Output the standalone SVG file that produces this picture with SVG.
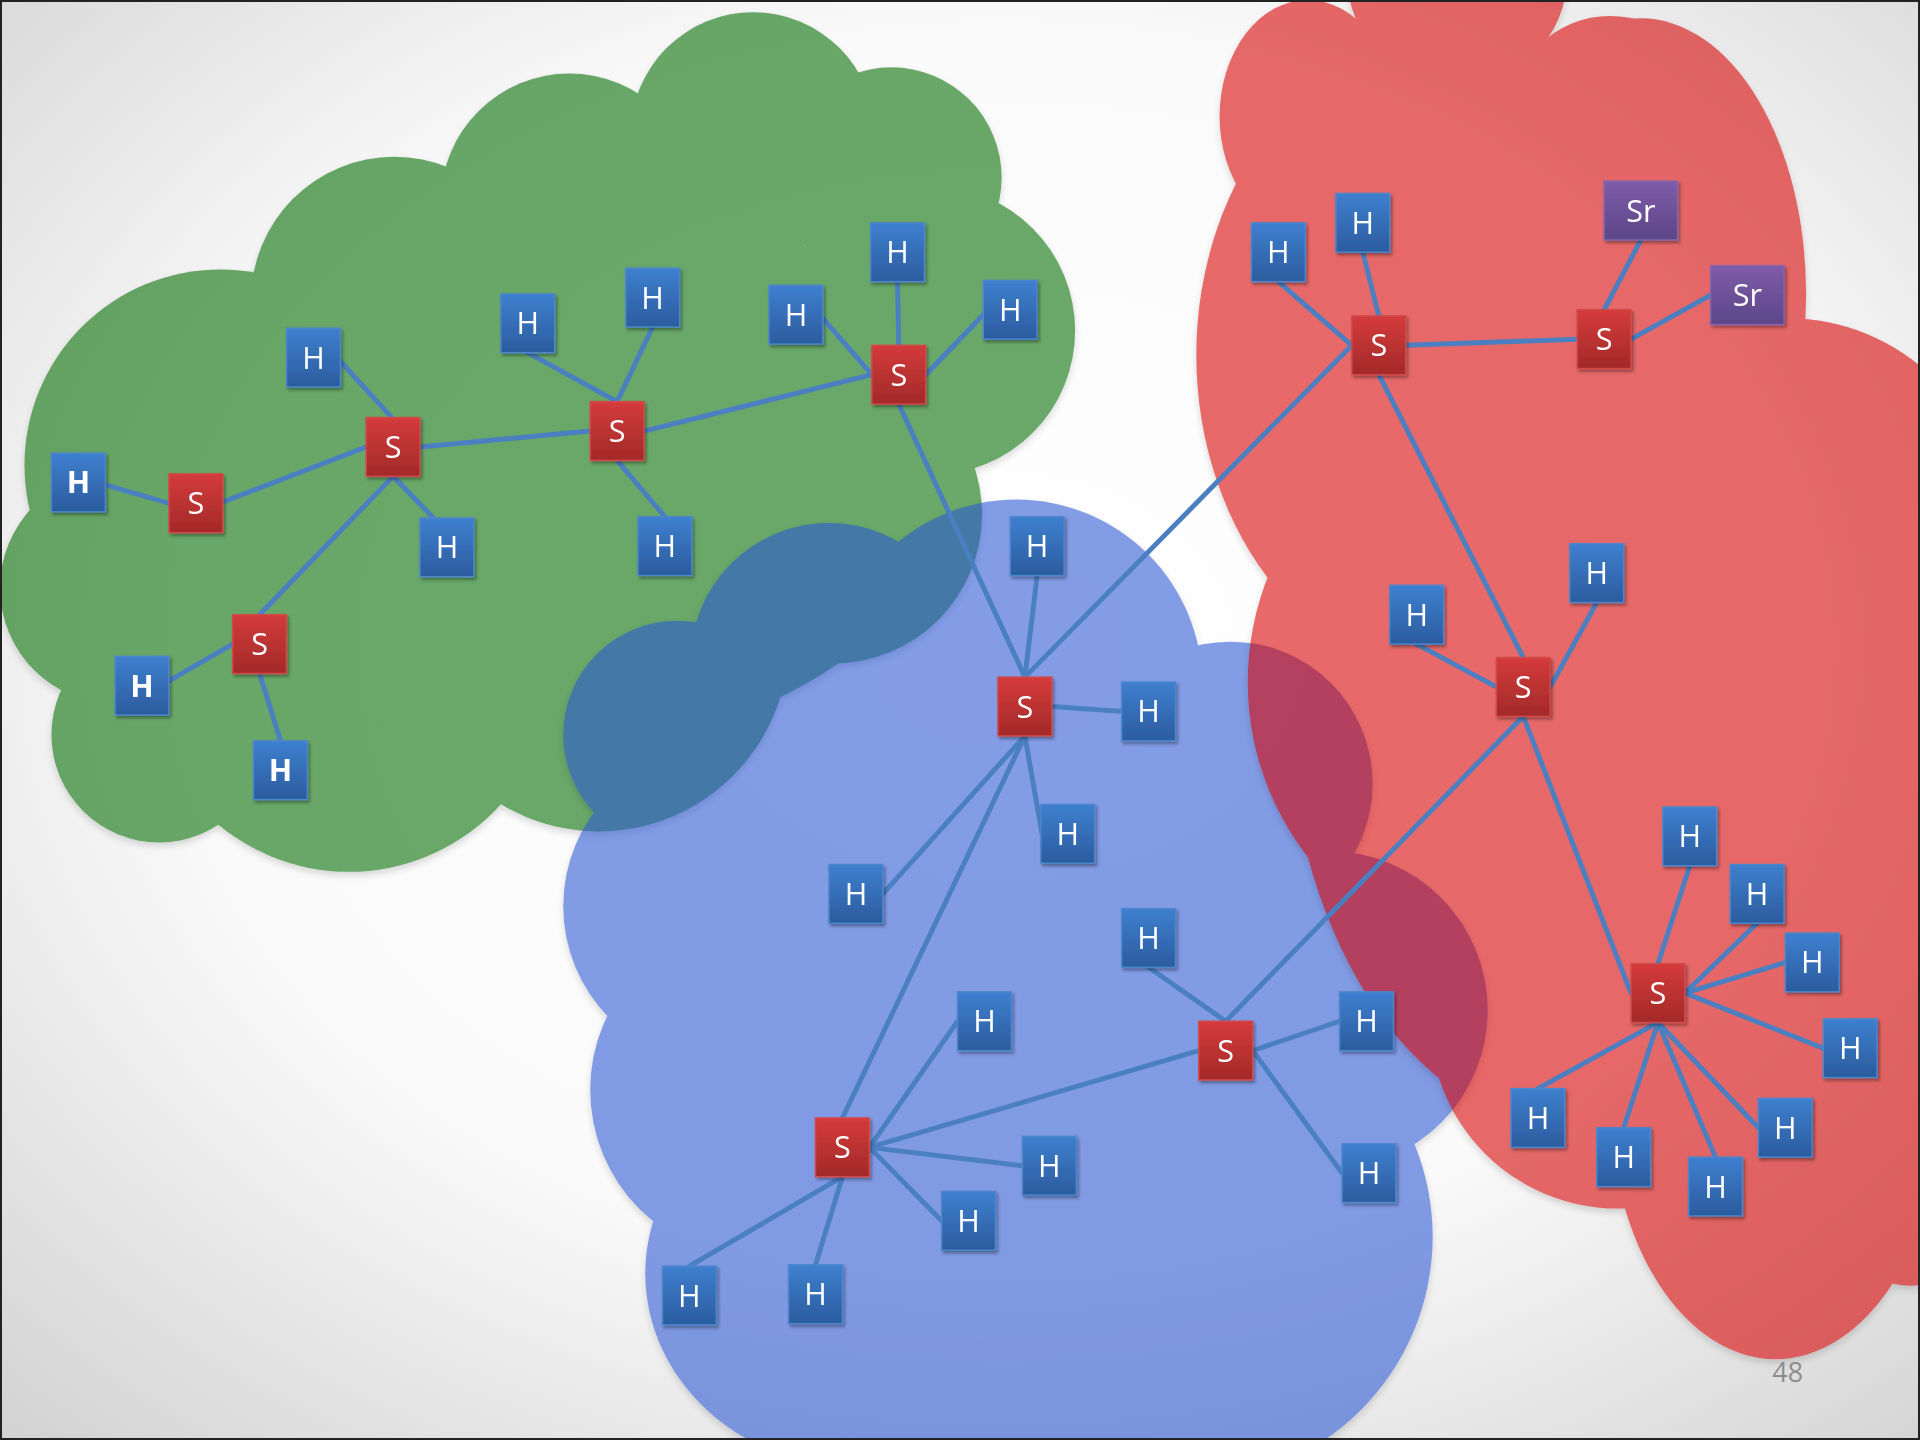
<svg xmlns="http://www.w3.org/2000/svg" width="1920" height="1440" viewBox="0 0 1920 1440">
<defs>
<radialGradient id="bg" cx="0.52" cy="0.45" r="0.78">
<stop offset="0" stop-color="#ffffff"/>
<stop offset="0.55" stop-color="#fafafa"/>
<stop offset="1" stop-color="#cfcfcf"/>
</radialGradient>
<linearGradient id="gh" x1="0" y1="0" x2="0" y2="1">
<stop offset="0" stop-color="#3f7fcf"/>
<stop offset="1" stop-color="#2b5c9e"/>
</linearGradient>
<linearGradient id="gs" x1="0" y1="0" x2="0" y2="1">
<stop offset="0" stop-color="#d43b3b"/>
<stop offset="1" stop-color="#a32929"/>
</linearGradient>
<linearGradient id="gp" x1="0" y1="0" x2="0" y2="1">
<stop offset="0" stop-color="#7e5ca8"/>
<stop offset="1" stop-color="#5c4688"/>
</linearGradient>
<filter id="sh" x="-20%" y="-20%" width="150%" height="150%">
<feDropShadow dx="1.5" dy="2" stdDeviation="1.5" flood-color="#000" flood-opacity="0.35"/>
</filter>
<filter id="csh" x="-10%" y="-10%" width="120%" height="120%">
<feDropShadow dx="0" dy="3" stdDeviation="3" flood-color="#000" flood-opacity="0.25"/>
</filter>
</defs>
<style>
.h{fill:url(#gh);stroke:#4d86cc;stroke-width:1.2}
.s{fill:url(#gs);stroke:#d24a4a;stroke-width:1.2}
.p{fill:url(#gp);stroke:#8265b0;stroke-width:1.2}
.node{filter:url(#sh)}
.t{fill:#ffffff;font-family:"Open Sans","Liberation Sans",sans-serif;font-size:25px;text-anchor:middle}
.b{font-weight:bold}
.c line{stroke:#4a7fc2;stroke-width:4;stroke-linecap:round}
</style>
<rect x="0" y="0" width="1920" height="1440" fill="url(#bg)"/>
<g transform="scale(1.2244898)">
<g id="cloud-green" opacity="0.58" fill="#006c00" filter="url(#csh)">
<circle cx="615" cy="110" r="100"/>
<circle cx="728" cy="145" r="90"/>
<circle cx="760" cy="270" r="118"/>
<circle cx="465" cy="165" r="105"/>
<circle cx="322" cy="245" r="117"/>
<circle cx="180" cy="380" r="160"/>
<circle cx="95" cy="480" r="95"/>
<circle cx="130" cy="600" r="88"/>
<circle cx="285" cy="545" r="167"/>
<circle cx="489" cy="524" r="155"/>
<circle cx="680" cy="420" r="122"/>
<ellipse cx="450" cy="380" rx="330" ry="230"/>
</g>
<g id="cloud-blue" opacity="0.58" fill="#2b56d4" filter="url(#csh)">
<circle cx="830" cy="560" r="152"/>
<circle cx="677" cy="540" r="113"/>
<circle cx="553" cy="600" r="93"/>
<circle cx="590" cy="740" r="130"/>
<circle cx="620" cy="890" r="138"/>
<ellipse cx="705" cy="1040" rx="178" ry="160"/>
<circle cx="970" cy="1010" r="200"/>
<circle cx="880" cy="1120" r="190"/>
<circle cx="1005" cy="640" r="116"/>
<circle cx="1085" cy="825" r="130"/>
<ellipse cx="840" cy="800" rx="250" ry="300"/>
</g>
<g id="cloud-red" opacity="0.58" fill="#d80000" filter="url(#csh)">
<ellipse cx="1068" cy="95" rx="72" ry="95"/>
<circle cx="1190" cy="-20" r="90"/>
<circle cx="1315" cy="95" r="82"/>
<ellipse cx="1340" cy="240" rx="135" ry="225"/>
<ellipse cx="1200" cy="290" rx="223" ry="270"/>
<circle cx="1252" cy="557" r="233"/>
<circle cx="1321" cy="834" r="153"/>
<ellipse cx="1450" cy="900" rx="135" ry="210"/>
<ellipse cx="1560" cy="720" rx="140" ry="330"/>
<circle cx="1460" cy="430" r="170"/>
<ellipse cx="1280" cy="560" rx="230" ry="360"/>
</g>
<g id="connectors" class="c">
<line x1="86" y1="396" x2="138" y2="411"/>
<line x1="182" y1="410" x2="299" y2="365"/>
<line x1="277" y1="294" x2="320" y2="341"/>
<line x1="321" y1="389" x2="354" y2="423"/>
<line x1="321" y1="389" x2="212" y2="502"/>
<line x1="190" y1="526" x2="138" y2="556"/>
<line x1="212" y1="550" x2="229" y2="605"/>
<line x1="343" y1="365" x2="482" y2="352"/>
<line x1="431" y1="288" x2="504" y2="328"/>
<line x1="533" y1="267" x2="504" y2="328"/>
<line x1="504" y1="376" x2="543" y2="422"/>
<line x1="526" y1="352" x2="712" y2="306"/>
<line x1="672" y1="260" x2="712" y2="306"/>
<line x1="733" y1="230" x2="734" y2="282"/>
<line x1="805" y1="255" x2="756" y2="306"/>
<line x1="734" y1="330" x2="837" y2="553"/>
<line x1="847" y1="470" x2="837" y2="553"/>
<line x1="859" y1="577" x2="916" y2="581"/>
<line x1="837" y1="601" x2="851" y2="681"/>
<line x1="837" y1="601" x2="721" y2="730"/>
<line x1="837" y1="601" x2="688" y2="913"/>
<line x1="837" y1="553" x2="1104" y2="282"/>
<line x1="1044" y1="230" x2="1104" y2="282"/>
<line x1="1113" y1="206" x2="1126" y2="258"/>
<line x1="1148" y1="282" x2="1288" y2="277"/>
<line x1="1310" y1="253" x2="1340" y2="196"/>
<line x1="1332" y1="277" x2="1397" y2="241"/>
<line x1="1126" y1="306" x2="1244" y2="537"/>
<line x1="1157" y1="526" x2="1222" y2="561"/>
<line x1="1304" y1="492" x2="1266" y2="561"/>
<line x1="1244" y1="585" x2="1332" y2="811"/>
<line x1="1244" y1="585" x2="1001" y2="834"/>
<line x1="938" y1="790" x2="1001" y2="834"/>
<line x1="1023" y1="858" x2="1094" y2="834"/>
<line x1="1023" y1="858" x2="1096" y2="958"/>
<line x1="979" y1="858" x2="710" y2="937"/>
<line x1="710" y1="937" x2="782" y2="834"/>
<line x1="710" y1="937" x2="835" y2="952"/>
<line x1="710" y1="937" x2="769" y2="997"/>
<line x1="688" y1="961" x2="563" y2="1034"/>
<line x1="688" y1="961" x2="666" y2="1033"/>
<line x1="1354" y1="787" x2="1380" y2="707"/>
<line x1="1376" y1="811" x2="1435" y2="754"/>
<line x1="1376" y1="811" x2="1458" y2="786"/>
<line x1="1376" y1="811" x2="1489" y2="856"/>
<line x1="1354" y1="835" x2="1436" y2="921"/>
<line x1="1354" y1="835" x2="1401" y2="945"/>
<line x1="1354" y1="835" x2="1326" y2="921"/>
<line x1="1354" y1="835" x2="1256" y2="889"/>
</g>
<g id="h1" class="node"><rect class="h" x="42" y="370" width="44" height="48"/><text class="t b" x="64" y="403">H</text></g>
<g id="s1" class="node"><rect class="s" x="138" y="387" width="44" height="48"/><text class="t" x="160" y="420">S</text></g>
<g id="h2" class="node"><rect class="h" x="234" y="268" width="44" height="48"/><text class="t" x="256" y="301">H</text></g>
<g id="s2" class="node"><rect class="s" x="299" y="341" width="44" height="48"/><text class="t" x="321" y="374">S</text></g>
<g id="h3" class="node"><rect class="h" x="343" y="423" width="44" height="48"/><text class="t" x="365" y="456">H</text></g>
<g id="s3" class="node"><rect class="s" x="190" y="502" width="44" height="48"/><text class="t" x="212" y="535">S</text></g>
<g id="h4" class="node"><rect class="h" x="94" y="536" width="44" height="48"/><text class="t b" x="116" y="569">H</text></g>
<g id="h5" class="node"><rect class="h" x="207" y="605" width="44" height="48"/><text class="t b" x="229" y="638">H</text></g>
<g id="h6" class="node"><rect class="h" x="409" y="240" width="44" height="48"/><text class="t" x="431" y="273">H</text></g>
<g id="h7" class="node"><rect class="h" x="511" y="219" width="44" height="48"/><text class="t" x="533" y="252">H</text></g>
<g id="s4" class="node"><rect class="s" x="482" y="328" width="44" height="48"/><text class="t" x="504" y="361">S</text></g>
<g id="h8" class="node"><rect class="h" x="521" y="422" width="44" height="48"/><text class="t" x="543" y="455">H</text></g>
<g id="h9" class="node"><rect class="h" x="628" y="233" width="44" height="48"/><text class="t" x="650" y="266">H</text></g>
<g id="h10" class="node"><rect class="h" x="711" y="182" width="44" height="48"/><text class="t" x="733" y="215">H</text></g>
<g id="h11" class="node"><rect class="h" x="803" y="229" width="44" height="48"/><text class="t" x="825" y="262">H</text></g>
<g id="s5" class="node"><rect class="s" x="712" y="282" width="44" height="48"/><text class="t" x="734" y="315">S</text></g>
<g id="h12" class="node"><rect class="h" x="825" y="422" width="44" height="48"/><text class="t" x="847" y="455">H</text></g>
<g id="s6" class="node"><rect class="s" x="815" y="553" width="44" height="48"/><text class="t" x="837" y="586">S</text></g>
<g id="h13" class="node"><rect class="h" x="916" y="557" width="44" height="48"/><text class="t" x="938" y="590">H</text></g>
<g id="h14" class="node"><rect class="h" x="850" y="657" width="44" height="48"/><text class="t" x="872" y="690">H</text></g>
<g id="h15" class="node"><rect class="h" x="677" y="706" width="44" height="48"/><text class="t" x="699" y="739">H</text></g>
<g id="h16" class="node"><rect class="h" x="916" y="742" width="44" height="48"/><text class="t" x="938" y="775">H</text></g>
<g id="s7" class="node"><rect class="s" x="979" y="834" width="44" height="48"/><text class="t" x="1001" y="867">S</text></g>
<g id="h17" class="node"><rect class="h" x="1094" y="810" width="44" height="48"/><text class="t" x="1116" y="843">H</text></g>
<g id="h18" class="node"><rect class="h" x="1096" y="934" width="44" height="48"/><text class="t" x="1118" y="967">H</text></g>
<g id="h19" class="node"><rect class="h" x="782" y="810" width="44" height="48"/><text class="t" x="804" y="843">H</text></g>
<g id="s8" class="node"><rect class="s" x="666" y="913" width="44" height="48"/><text class="t" x="688" y="946">S</text></g>
<g id="h20" class="node"><rect class="h" x="835" y="928" width="44" height="48"/><text class="t" x="857" y="961">H</text></g>
<g id="h21" class="node"><rect class="h" x="769" y="973" width="44" height="48"/><text class="t" x="791" y="1006">H</text></g>
<g id="h22" class="node"><rect class="h" x="541" y="1034" width="44" height="48"/><text class="t" x="563" y="1067">H</text></g>
<g id="h23" class="node"><rect class="h" x="644" y="1033" width="44" height="48"/><text class="t" x="666" y="1066">H</text></g>
<g id="h24" class="node"><rect class="h" x="1022" y="182" width="44" height="48"/><text class="t" x="1044" y="215">H</text></g>
<g id="h25" class="node"><rect class="h" x="1091" y="158" width="44" height="48"/><text class="t" x="1113" y="191">H</text></g>
<g id="s9" class="node"><rect class="s" x="1104" y="258" width="44" height="48"/><text class="t" x="1126" y="291">S</text></g>
<g id="s10" class="node"><rect class="s" x="1288" y="253" width="44" height="48"/><text class="t" x="1310" y="286">S</text></g>
<g id="sr1" class="node"><rect class="p" x="1310" y="148" width="60" height="48"/><text class="t" x="1340" y="181">Sr</text></g>
<g id="sr2" class="node"><rect class="p" x="1397" y="217" width="60" height="48"/><text class="t" x="1427" y="250">Sr</text></g>
<g id="h26" class="node"><rect class="h" x="1135" y="478" width="44" height="48"/><text class="t" x="1157" y="511">H</text></g>
<g id="h27" class="node"><rect class="h" x="1282" y="444" width="44" height="48"/><text class="t" x="1304" y="477">H</text></g>
<g id="s11" class="node"><rect class="s" x="1222" y="537" width="44" height="48"/><text class="t" x="1244" y="570">S</text></g>
<g id="s12" class="node"><rect class="s" x="1332" y="787" width="44" height="48"/><text class="t" x="1354" y="820">S</text></g>
<g id="h28" class="node"><rect class="h" x="1358" y="659" width="44" height="48"/><text class="t" x="1380" y="692">H</text></g>
<g id="h29" class="node"><rect class="h" x="1413" y="706" width="44" height="48"/><text class="t" x="1435" y="739">H</text></g>
<g id="h30" class="node"><rect class="h" x="1458" y="762" width="44" height="48"/><text class="t" x="1480" y="795">H</text></g>
<g id="h31" class="node"><rect class="h" x="1489" y="832" width="44" height="48"/><text class="t" x="1511" y="865">H</text></g>
<g id="h32" class="node"><rect class="h" x="1436" y="897" width="44" height="48"/><text class="t" x="1458" y="930">H</text></g>
<g id="h33" class="node"><rect class="h" x="1379" y="945" width="44" height="48"/><text class="t" x="1401" y="978">H</text></g>
<g id="h34" class="node"><rect class="h" x="1304" y="921" width="44" height="48"/><text class="t" x="1326" y="954">H</text></g>
<g id="h35" class="node"><rect class="h" x="1234" y="889" width="44" height="48"/><text class="t" x="1256" y="922">H</text></g>
<text x="1460" y="1129" fill="#8c8c8c" font-family="'Open Sans','Liberation Sans',sans-serif" font-size="22" text-anchor="middle">48</text>
</g>
<rect x="1" y="1" width="1918" height="1438" fill="none" stroke="#222" stroke-width="2"/>
</svg>
